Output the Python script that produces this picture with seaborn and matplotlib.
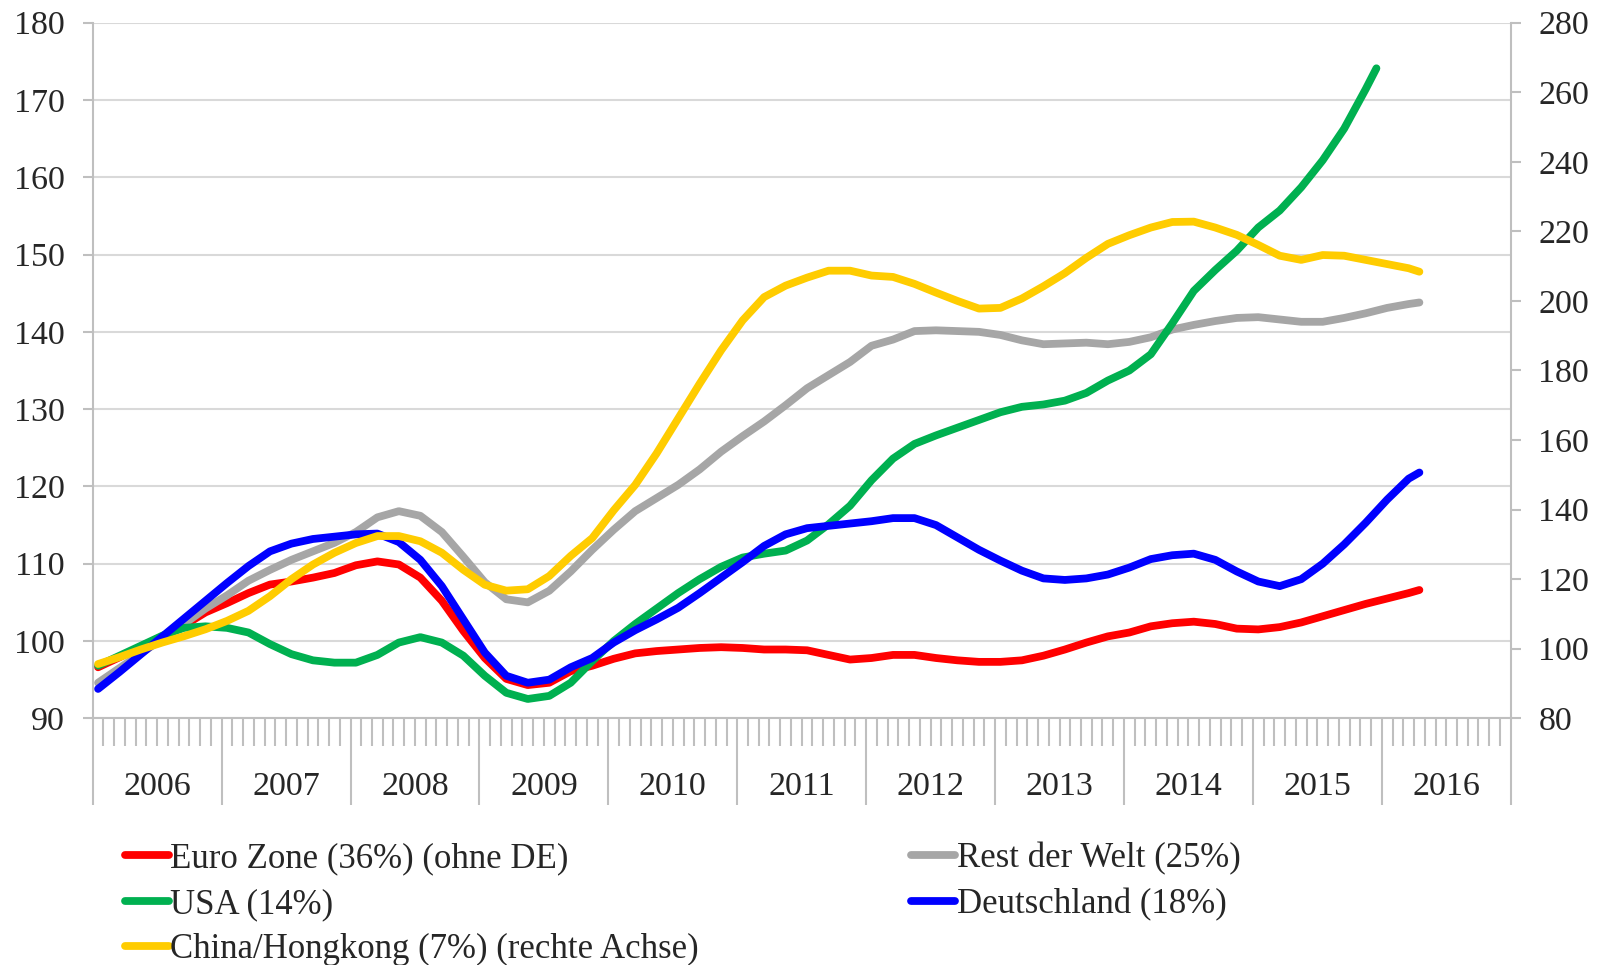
import matplotlib
matplotlib.use("Agg")
import matplotlib.pyplot as plt
import seaborn as sns
import pandas as pd

# ---- data (month index: 0 = Jan 2006) ----
months = [0, 2, 4, 6, 8, 10, 12, 14, 16, 18, 20, 22, 24, 26, 28, 30, 32, 34, 36, 38,
          40, 42, 44, 46, 48, 50, 52, 54, 56, 58, 60, 62, 64, 66, 68, 70, 72, 74, 76, 78,
          80, 82, 84, 86, 88, 90, 92, 94, 96, 98, 100, 102, 104, 106, 108, 110, 112, 114,
          116, 118, 120, 122, 123]
months_usa = [0, 2, 4, 6, 8, 10, 12, 14, 16, 18, 20, 22, 24, 26, 28, 30, 32, 34, 36, 38,
              40, 42, 44, 46, 48, 50, 52, 54, 56, 58, 60, 62, 64, 66, 68, 70, 72, 74, 76, 78,
              80, 82, 84, 86, 88, 90, 92, 94, 96, 98, 100, 102, 104, 106, 108, 110, 112, 114,
              116, 118, 119]

euro_zone = [96.6, 97.9, 99.3, 100.6, 102.0, 103.7, 104.9, 106.2, 107.3, 107.7, 108.2, 108.8,
             109.8, 110.3, 109.9, 108.2, 105.2, 101.3, 97.8, 95.1, 94.3, 94.6, 96.1, 96.8,
             97.7, 98.4, 98.7, 98.9, 99.1, 99.2, 99.1, 98.9, 98.9, 98.8, 98.2, 97.6, 97.8,
             98.2, 98.2, 97.8, 97.5, 97.3, 97.3, 97.5, 98.1, 98.9, 99.8, 100.6, 101.1, 101.9,
             102.3, 102.5, 102.2, 101.6, 101.5, 101.8, 102.4, 103.2, 104.0, 104.8, 105.5,
             106.2, 106.6]
rest_welt = [94.6, 96.5, 98.4, 100.3, 102.2, 104.2, 105.9, 107.8, 109.2, 110.5, 111.6, 112.7,
             114.1, 116.0, 116.8, 116.2, 114.1, 110.9, 107.6, 105.4, 105.0, 106.5, 109.0,
             111.8, 114.4, 116.8, 118.5, 120.2, 122.2, 124.5, 126.5, 128.4, 130.5, 132.7,
             134.4, 136.1, 138.2, 139.0, 140.1, 140.2, 140.1, 140.0, 139.6, 138.9, 138.4,
             138.5, 138.6, 138.4, 138.7, 139.3, 140.3, 140.9, 141.4, 141.8, 141.9, 141.6,
             141.3, 141.3, 141.8, 142.4, 143.1, 143.6, 143.8]
usa = [96.8, 98.1, 99.4, 100.7, 101.7, 101.9, 101.7, 101.1, 99.6, 98.3, 97.5, 97.2, 97.2,
       98.2, 99.8, 100.5, 99.8, 98.1, 95.5, 93.3, 92.5, 92.9, 94.6, 97.4, 100.0, 102.2, 104.2,
       106.2, 108.0, 109.6, 110.8, 111.3, 111.7, 113.0, 115.1, 117.5, 120.8, 123.6, 125.5,
       126.6, 127.6, 128.6, 129.6, 130.3, 130.6, 131.1, 132.1, 133.7, 135.0, 137.1, 141.1,
       145.3, 148.0, 150.5, 153.5, 155.7, 158.7, 162.2, 166.3, 171.4, 174.1]
deutschland = [93.8, 96.0, 98.3, 100.6, 102.9, 105.2, 107.5, 109.7, 111.6, 112.6, 113.2,
               113.5, 113.8, 113.9, 112.8, 110.5, 107.1, 102.8, 98.5, 95.5, 94.6, 95.0, 96.6,
               97.8, 99.8, 101.4, 102.8, 104.3, 106.2, 108.2, 110.2, 112.3, 113.8, 114.6,
               114.9, 115.2, 115.5, 115.9, 115.9, 115.0, 113.4, 111.8, 110.4, 109.1, 108.1,
               107.9, 108.1, 108.6, 109.5, 110.6, 111.1, 111.3, 110.5, 109.0, 107.7, 107.1,
               108.0, 110.0, 112.5, 115.3, 118.3, 121.0, 121.8]
china_hk = [95.6, 97.6, 99.8, 101.8, 103.6, 105.6, 108.0, 110.9, 115.1, 120.0, 124.2, 127.6,
            130.4, 132.4, 132.4, 130.9, 127.6, 122.7, 118.4, 116.7, 117.1, 120.9, 126.7,
            131.8, 139.8, 147.1, 156.2, 166.2, 176.2, 185.8, 194.4, 201.1, 204.4, 206.7,
            208.7, 208.7, 207.3, 206.9, 204.9, 202.4, 200.0, 197.8, 198.0, 200.7, 204.2,
            208.0, 212.4, 216.4, 218.9, 221.1, 222.7, 222.8, 221.1, 219.0, 216.1, 213.0,
            211.8, 213.2, 213.0, 211.8, 210.6, 209.4, 208.4]

years = [str(y) for y in range(2006, 2017)]
labels = ["Euro Zone (36%) (ohne DE)", "Rest der Welt (25%)", "USA (14%)",
          "Deutschland (18%)", "China/Hongkong (7%) (rechte Achse)"]
colors = ["#FF0000", "#A6A6A6", "#00B050", "#0000FF", "#FFCC00"]

sns.set_style("white")
plt.rcParams["font.family"] = ["Liberation Serif", "DejaVu Serif"]
plt.rcParams["axes.unicode_minus"] = False

FS = 24.5
FS_LEG = 25
GRAY = "#BFBFBF"
GRID = "#D9D9D9"
LW = 5.6

fig = plt.figure(figsize=(16.08, 9.65), dpi=100)
ax = fig.add_axes([0.05765, 0.25565, 0.88184, 0.72083])
ax2 = ax.twinx()
ax2.set_position([0.05765, 0.25565, 0.88184, 0.72083])

x_all = [m + 0.5 for m in months]
x_usa = [m + 0.5 for m in months_usa]

line_kw = dict(linewidth=LW, solid_capstyle="round", solid_joinstyle="round")
sns.lineplot(x=x_all, y=euro_zone, color=colors[0], ax=ax, label=labels[0], legend=False, **line_kw)
sns.lineplot(x=x_all, y=rest_welt, color=colors[1], ax=ax, label=labels[1], legend=False, **line_kw)
sns.lineplot(x=x_usa, y=usa, color=colors[2], ax=ax, label=labels[2], legend=False, **line_kw)
sns.lineplot(x=x_all, y=deutschland, color=colors[3], ax=ax, label=labels[3], legend=False, **line_kw)
sns.lineplot(x=x_all, y=china_hk, color=colors[4], ax=ax2, label=labels[4], legend=False, **line_kw)

# axes limits & ticks
ax.set_xlim(0, 132)
ax.set_ylim(90, 180)
ax2.set_ylim(80, 280)
ax.set_yticks(range(90, 181, 10))
ax2.set_yticks(range(80, 281, 20))
ax.set_xticks(range(0, 133, 12))
ax.set_xticks(range(0, 133), minor=True)
ax.set_xticklabels([])

ax.grid(axis="y", color=GRID, linewidth=1.5)
ax.grid(axis="x", visible=False)
ax.set_axisbelow(True)
ax2.grid(False)

for a in (ax, ax2):
    a.spines["top"].set_visible(False)
    for s in ("left", "right", "bottom"):
        a.spines[s].set_color(GRAY)
        a.spines[s].set_linewidth(1.5)
ax.spines["right"].set_visible(False)
ax2.spines["left"].set_visible(False)
ax2.spines["bottom"].set_visible(False)

ax.tick_params(axis="y", which="major", direction="out", length=7, width=1.5, color=GRAY,
               labelsize=FS, pad=13, left=True)
ax2.tick_params(axis="y", which="major", direction="out", length=7, width=1.5, color=GRAY,
                labelsize=FS, pad=13, right=True)
ax.tick_params(axis="x", which="major", direction="out", length=62.5, width=1.5, color=GRAY,
               bottom=True)
ax.tick_params(axis="x", which="minor", direction="out", length=20.5, width=1.5, color=GRAY,
               bottom=True)
ax.set_xlabel("")
ax.set_ylabel("")
ax2.set_ylabel("")

for i, yr in enumerate(years):
    ax.text(12 * i + 6, -0.099, yr, transform=ax.get_xaxis_transform(),
            ha="center", va="center", fontsize=FS)

# legend in two columns
h1, _ = ax.get_legend_handles_labels()
h2, _ = ax2.get_legend_handles_labels()
hmap = dict(zip(labels[:4], h1))
hmap[labels[4]] = h2[0]

leg_kw = dict(frameon=False, fontsize=FS_LEG, handlelength=1.27, handletextpad=0.05,
              borderpad=0, borderaxespad=0, labelspacing=0.36, loc="upper left")
col1 = [labels[0], labels[2], labels[4]]
col2 = [labels[1], labels[3]]
leg1 = fig.legend([hmap[l] for l in col1], col1, bbox_to_anchor=(0.0775, 0.127), **leg_kw)
leg2 = fig.legend([hmap[l] for l in col2], col2, bbox_to_anchor=(0.5665, 0.127), **leg_kw)

fig.savefig("out.png", dpi=100)
